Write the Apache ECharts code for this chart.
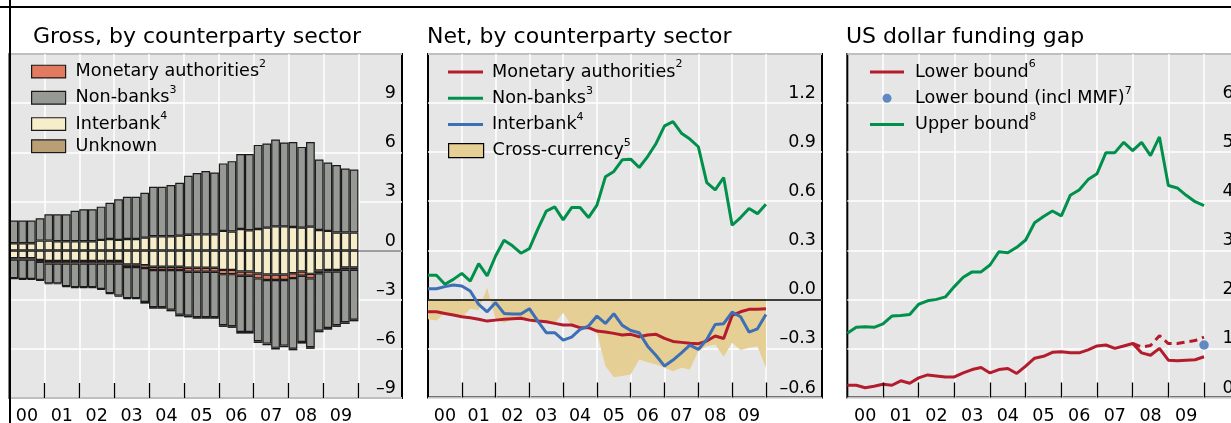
<!DOCTYPE html>
<html>
<head>
<meta charset="utf-8">
<script src="https://cdn.jsdelivr.net/npm/echarts@6/dist/echarts.min.js"></script>
<style>
html,body{margin:0;padding:0;background:#fff;}
#chart{width:1231px;height:423px;}
</style>
</head>
<body>
<div id="chart"></div>
<script>
// ---------------- data ----------------
const barQuarters = [];
for (let y = 2000; y <= 2009; y++) for (let q = 1; q <= 4; q++) barQuarters.push(y + 'Q' + q);
// empty quarters that pad the gross panel's axis out to its right edge
const padQuarters = ['2010Q1', '2010Q2', '2010Q3', '2010Q4', '2011Q1'];
const lineQuarters = ['1999Q4'].concat(barQuarters);

const yearTicks = [2001, 2002, 2003, 2004, 2005, 2006, 2007, 2008, 2009, 2010];
const yearLabels = ['00', '01', '02', '03', '04', '05', '06', '07', '08', '09'];
const grossTicks = [-9, -6, -3, 0, 3, 6, 9];
const netTicks = [-0.6, -0.3, 0, 0.3, 0.6, 0.9, 1.2];
const gapTicks = [0, 1, 2, 3, 4, 5, 6];

// Panel 1: gross positions (assets positive, liabilities negative)
const interbankAssets = [0.45,0.45,0.45,0.61,0.61,0.57,0.57,0.57,0.57,0.57,0.65,0.71,0.65,0.71,0.71,0.79,0.87,0.87,0.87,0.91,0.97,0.99,0.99,0.99,1.20,1.16,1.32,1.24,1.32,1.40,1.48,1.48,1.44,1.40,1.46,1.26,1.20,1.10,1.10,1.10];
const nonbankAssets = [1.38,1.38,1.38,1.36,1.60,1.64,1.64,1.86,1.95,1.95,2.03,2.21,2.48,2.58,2.58,2.74,3.03,3.03,3.13,3.23,3.59,3.74,3.86,3.78,4.12,4.30,4.57,4.65,5.13,5.14,5.30,5.12,5.19,4.93,5.17,4.30,4.18,4.12,3.91,3.85];
const interbankLiab = [-0.47,-0.47,-0.47,-0.57,-0.63,-0.63,-0.63,-0.63,-0.63,-0.63,-0.63,-0.63,-0.63,-0.84,-0.84,-0.89,-0.99,-0.99,-0.99,-0.99,-1.05,-1.05,-1.05,-1.05,-1.18,-1.18,-1.28,-1.28,-1.40,-1.46,-1.46,-1.46,-1.38,-1.28,-1.42,-1.22,-1.18,-1.18,-1.03,-1.03];
const monetaryLiab = [-0.08,-0.08,-0.08,-0.12,-0.16,-0.16,-0.16,-0.16,-0.16,-0.16,-0.16,-0.16,-0.16,-0.16,-0.16,-0.18,-0.20,-0.20,-0.20,-0.20,-0.24,-0.24,-0.24,-0.24,-0.26,-0.26,-0.26,-0.26,-0.30,-0.34,-0.34,-0.34,-0.30,-0.26,-0.28,-0.16,-0.10,-0.10,-0.14,-0.14];
const nonbankLiab = [-1.14,-1.18,-1.18,-1.10,-1.21,-1.21,-1.39,-1.45,-1.45,-1.45,-1.55,-1.81,-1.96,-1.91,-1.91,-2.07,-2.26,-2.26,-2.42,-2.73,-2.69,-2.77,-2.77,-2.77,-3.12,-3.18,-3.43,-3.43,-3.84,-3.88,-4.14,-4.00,-4.31,-4.04,-4.20,-3.51,-3.45,-3.28,-3.21,-3.05];
const unknownLiab = [-0.05,-0.05,-0.05,-0.05,-0.05,-0.05,-0.05,-0.05,-0.05,-0.05,-0.05,-0.05,-0.05,-0.05,-0.05,-0.10,-0.10,-0.10,-0.10,-0.10,-0.10,-0.10,-0.10,-0.10,-0.10,-0.10,-0.10,-0.10,-0.10,-0.10,-0.10,-0.10,-0.10,-0.10,-0.10,-0.10,-0.10,-0.10,-0.10,-0.10];

// Panel 2: net positions (1999Q4 .. 2009Q4)
const netMonetary = [-0.076,-0.076,-0.086,-0.096,-0.106,-0.112,-0.122,-0.133,-0.127,-0.122,-0.118,-0.116,-0.127,-0.133,-0.137,-0.147,-0.157,-0.157,-0.173,-0.173,-0.194,-0.200,-0.208,-0.218,-0.214,-0.229,-0.218,-0.214,-0.239,-0.257,-0.263,-0.269,-0.271,-0.255,-0.224,-0.239,-0.098,-0.076,-0.061,-0.061,-0.057];
const netNonbanks = [0.147,0.147,0.092,0.122,0.159,0.112,0.218,0.143,0.265,0.361,0.327,0.282,0.310,0.429,0.539,0.565,0.486,0.561,0.561,0.500,0.576,0.749,0.782,0.853,0.857,0.806,0.873,0.953,1.061,1.086,1.016,0.980,0.933,0.714,0.669,0.745,0.453,0.500,0.555,0.524,0.582];
const netInterbank = [0.065,0.065,0.078,0.088,0.082,0.051,-0.031,-0.076,-0.020,-0.086,-0.090,-0.090,-0.057,-0.133,-0.204,-0.204,-0.249,-0.231,-0.184,-0.163,-0.102,-0.147,-0.088,-0.159,-0.190,-0.204,-0.286,-0.343,-0.408,-0.371,-0.327,-0.280,-0.306,-0.245,-0.153,-0.149,-0.078,-0.106,-0.200,-0.180,-0.092];
const crossCurrency = [-0.122,-0.129,-0.082,-0.098,-0.112,-0.057,-0.065,0.071,-0.122,-0.143,-0.122,-0.118,-0.122,-0.133,-0.139,-0.147,-0.082,-0.163,-0.184,-0.163,-0.204,-0.408,-0.476,-0.469,-0.459,-0.367,-0.384,-0.398,-0.418,-0.439,-0.418,-0.429,-0.316,-0.286,-0.276,-0.351,-0.265,-0.310,-0.296,-0.286,-0.418];

// Panel 3: US dollar funding gap (1999Q4 .. 2009Q4)
const upperBound = [1.31,1.43,1.44,1.43,1.50,1.66,1.67,1.69,1.90,1.97,2.00,2.05,2.26,2.45,2.56,2.56,2.70,2.97,2.95,3.06,3.21,3.56,3.69,3.80,3.70,4.12,4.23,4.44,4.56,4.99,4.99,5.20,5.03,5.20,4.93,5.31,4.32,4.27,4.12,3.99,3.91];
const lowerBound = [0.25,0.25,0.20,0.23,0.27,0.25,0.34,0.29,0.40,0.46,0.44,0.42,0.42,0.50,0.57,0.61,0.50,0.57,0.59,0.49,0.64,0.80,0.84,0.92,0.93,0.91,0.91,0.97,1.05,1.07,1.00,1.05,1.10,0.91,0.86,1.00,0.76,0.75,0.76,0.77,0.83];
const lowerAltQuarters = ['2007Q4','2008Q1','2008Q2','2008Q3','2008Q4','2009Q1','2009Q2','2009Q3','2009Q4'];
const lowerBoundAlt = [1.10,1.03,1.06,1.26,1.10,1.10,1.13,1.16,1.23];
const mmfQuarters = ['2009Q4'];
const lowerBoundMMF = [1.07];

// ---------------- helpers ----------------
const FONT = 'DejaVu Sans';
const INK = '#000';
const PLOT_BG = '#e6e6e6';
const C = {
  salmon: '#e27a5f', gray: '#979995', cream: '#f6edcb', unknown: '#b99e76',
  red: '#b31c2d', green: '#00904c', blue: '#3d6fb6', tan: '#e5cf94'
};
const qEnd = s => +s.slice(0, 4) + (+s.slice(5)) / 4;
const pairs = (qs, fx, ys) => ys.map((v, i) => [fx(qs[i]), v]);
const minus = s => s.replace('-', '\u2013');

const legendText = {
  'Monetary authorities': ['Monetary authorities', '2'],
  'Non-banks': ['Non-banks', '3'],
  'Interbank': ['Interbank', '4'],
  'Unknown': ['Unknown', ''],
  'Monetary authorities (net)': ['Monetary authorities', '2'],
  'Non-banks (net)': ['Non-banks', '3'],
  'Interbank (net)': ['Interbank', '4'],
  'Cross-currency': ['Cross-currency', '5'],
  'Lower bound': ['Lower bound', '6'],
  'Lower bound (incl MMF)': ['Lower bound (incl MMF)', '7'],
  'Upper bound': ['Upper bound', '8']
};
const legendFormatter = n => {
  const t = legendText[n];
  return t[1] ? '{a|' + t[0] + '}{s|' + t[1] + '}' : '{a|' + t[0] + '}';
};
// one legend component per entry, placed by the centre of its row
function legendItem(name, left, rowCenter, w, h, padLeft, extra) {
  return Object.assign({
    data: [name], left: left, top: rowCenter - 13, orient: 'vertical', padding: 0,
    itemGap: 0, itemWidth: w, itemHeight: h, selectedMode: false,
    formatter: legendFormatter,
    textStyle: {
      fontFamily: FONT, fontSize: 17.6, color: INK, padding: [0, 0, 0, padLeft],
      rich: {
        a: { fontFamily: FONT, fontSize: 17.6, color: INK, lineHeight: 26.2 },
        s: { fontFamily: FONT, fontSize: 11, color: INK, lineHeight: 14, verticalAlign: 'top' }
      }
    }
  }, extra);
}
function xAxes(gridIndex, max) {
  return [
    { // gridlines
      type: 'value', gridIndex: gridIndex, min: 2000, max: max, position: 'bottom',
      axisLine: { show: false }, axisLabel: { show: false },
      axisTick: { show: false, customValues: yearTicks },
      splitLine: { show: true, lineStyle: { color: '#fff', width: 1.5 } }
    },
    { // ticks + year labels
      type: 'value', gridIndex: gridIndex, min: 2000, max: max, position: 'bottom', z: 4,
      axisLine: { show: false }, splitLine: { show: false },
      axisTick: { show: true, inside: true, length: 15, customValues: yearTicks, lineStyle: { color: INK, width: 1.3 } },
      axisLabel: {
        show: true, customValues: yearLabels.map((_, i) => 2000.5 + i),
        formatter: v => yearLabels[Math.round(v - 2000.5)] || '',
        fontFamily: FONT, fontSize: 17.5, color: INK, margin: 9.5
      }
    }
  ];
}
function yAxis(gridIndex, min, max, interval, ticks, fmt) {
  return {
    type: 'value', gridIndex: gridIndex, position: 'right', min: min, max: max, interval: interval,
    axisLine: { show: false }, axisTick: { show: false },
    splitLine: { show: true, lineStyle: { color: '#fff', width: 1.5 } },
    axisLabel: {
      inside: true, margin: 6, verticalAlign: 'bottom', padding: [0, 0, 0.5, 0],
      customValues: ticks, formatter: fmt,
      fontFamily: FONT, fontSize: 17.5, color: INK
    }
  };
}
const gridBase = { show: true, backgroundColor: PLOT_BG, borderColor: INK, borderWidth: 2, containLabel: false, outerBoundsMode: 'none' };
const barStyle = color => ({ color: color, borderColor: '#1a1a1a', borderWidth: 1.2 });
function bar(name, values, color, extra) {
  return Object.assign({
    name: name, type: 'bar', xAxisIndex: 0, yAxisIndex: 0, stack: 'gross', barCategoryGap: '0%',
    data: values, itemStyle: barStyle(color), emphasis: { disabled: true }
  }, extra);
}
function line(name, xi, yi, qs, values, color, extra) {
  return Object.assign({
    name: name, type: 'line', xAxisIndex: xi, yAxisIndex: yi, symbol: 'none', z: 3,
    data: pairs(qs, qEnd, values), color: color,
    lineStyle: { color: color, width: 3 }, emphasis: { disabled: true }
  }, extra);
}
const zeroLine = (color, z) => ({
  silent: true, symbol: 'none', z: z, animation: false, label: { show: false },
  lineStyle: { color: color, width: 1.5, type: 'solid' }, emphasis: { disabled: true },
  data: [{ yAxis: 0 }]
});

const titleStyle = { fontFamily: FONT, fontSize: 22, fontWeight: 'normal', color: INK };
const lineIcon = { icon: 'rect', itemStyle: { borderWidth: 0 } };
const boxIcon = { icon: 'rect', itemStyle: { borderColor: '#1a1a1a', borderWidth: 1.2 } };

const option = {
  animation: false,
  title: [
    { text: 'Gross, by counterparty sector', left: 33, top: 26, padding: 0, textStyle: titleStyle },
    { text: 'Net, by counterparty sector', left: 427, top: 26, padding: 0, textStyle: titleStyle },
    { text: 'US dollar funding gap', left: 846, top: 26, padding: 0, textStyle: titleStyle }
  ],
  grid: [
    Object.assign({ left: 9.5, top: 54, width: 392.5, height: 344 }, gridBase),
    Object.assign({ left: 428, top: 54, width: 394, height: 343.5 }, gridBase),
    Object.assign({ left: 847.3, top: 54, width: 392.4, height: 343.5 }, gridBase)
  ],
  xAxis: [].concat(
    [{ type: 'category', gridIndex: 0, data: barQuarters.concat(padQuarters), boundaryGap: true, show: false, position: 'bottom' }],
    xAxes(0, 2011.25), xAxes(1, 2011.66), xAxes(2, 2011.0)),
  yAxis: [
    yAxis(0, -9, 12, 3, grossTicks, v => minus(String(v))),
    yAxis(1, -0.6, 1.5, 0.3, netTicks, v => minus(Math.abs(v) < 1e-9 ? '0.0' : v.toFixed(1))),
    yAxis(2, 0, 7, 1, gapTicks, v => String(v))
  ],
  legend: [
    legendItem('Monetary authorities', 31, 71.5, 34, 12.7, 5, boxIcon),
    legendItem('Non-banks', 31, 97.7, 34, 12.7, 5, boxIcon),
    legendItem('Interbank', 31, 124, 34, 12.7, 5, boxIcon),
    legendItem('Unknown', 31, 150.2, 34, 12.7, 5, boxIcon),
    legendItem('Monetary authorities (net)', 448, 72, 35, 3, 4, lineIcon),
    legendItem('Non-banks (net)', 448, 98.2, 35, 3, 4, lineIcon),
    legendItem('Interbank (net)', 448, 124.4, 35, 3, 4, lineIcon),
    legendItem('Cross-currency', 448, 150.6, 35, 14, 4,
      { icon: 'rect', itemStyle: { color: C.tan, borderColor: INK, borderWidth: 1.2 } }),
    legendItem('Lower bound', 870, 72, 34, 3, 6, lineIcon),
    // the circle sits centred in its 34px slot, so the box starts 12.5px in
    legendItem('Lower bound (incl MMF)', 882.5, 98.2, 34, 9, 6, { icon: 'circle', itemStyle: { borderWidth: 0 } }),
    legendItem('Upper bound', 870, 124.4, 34, 3, 6, lineIcon)
  ],
  graphic: [
    { type: 'line', z: 100, shape: { x1: 0, y1: 7, x2: 1231, y2: 7 }, style: { stroke: INK, lineWidth: 2 } },
    { type: 'line', z: 100, shape: { x1: 10, y1: 0, x2: 10, y2: 423 }, style: { stroke: INK, lineWidth: 2 } }
  ],
  series: [
    // Panel 1 (stack order: interbank, monetary, non-banks, unknown)
    bar('Interbank', interbankAssets, C.cream, { markLine: zeroLine('#7f7f7f', 1) }),
    bar('Interbank', interbankLiab, C.cream),
    bar('Monetary authorities', monetaryLiab, C.salmon),
    bar('Non-banks', nonbankAssets, C.gray),
    bar('Non-banks', nonbankLiab, C.gray),
    bar('Unknown', unknownLiab, C.unknown),
    // Panel 2
    {
      name: 'Cross-currency', type: 'line', xAxisIndex: 3, yAxisIndex: 1, symbol: 'none', z: 2,
      data: pairs(lineQuarters, qEnd, crossCurrency), color: C.tan,
      lineStyle: { width: 0, color: C.tan }, areaStyle: { color: C.tan, opacity: 1 },
      emphasis: { disabled: true }, markLine: zeroLine(INK, 2.5)
    },
    line('Monetary authorities (net)', 3, 1, lineQuarters, netMonetary, C.red),
    line('Non-banks (net)', 3, 1, lineQuarters, netNonbanks, C.green),
    line('Interbank (net)', 3, 1, lineQuarters, netInterbank, C.blue),
    // Panel 3
    line('Lower bound', 5, 2, lineQuarters, lowerBound, C.red),
    line('Lower bound (alt)', 5, 2, lowerAltQuarters, lowerBoundAlt, C.red,
      { lineStyle: { color: C.red, width: 3, type: [8, 5] } }),
    line('Upper bound', 5, 2, lineQuarters, upperBound, C.green),
    {
      name: 'Lower bound (incl MMF)', type: 'scatter', xAxisIndex: 5, yAxisIndex: 2, z: 4,
      symbol: 'circle', symbolSize: 9.5, color: C.blue, itemStyle: { color: C.blue },
      data: pairs(mmfQuarters, qEnd, lowerBoundMMF), emphasis: { disabled: true }
    }
  ]
};

const chart = echarts.init(document.getElementById('chart'), null, { renderer: 'canvas' });
chart.setOption(option);
</script>
</body>
</html>
